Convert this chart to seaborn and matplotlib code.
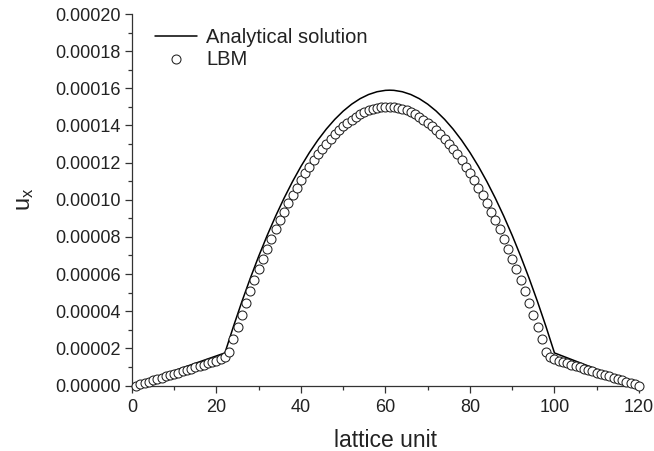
import matplotlib
matplotlib.use("Agg")
import matplotlib.pyplot as plt
import seaborn as sns
import pandas as pd
from matplotlib.ticker import MultipleLocator, FormatStrFormatter

# ---- data ----
ana_x = [0, 22, 24, 26, 28, 30, 32, 34, 36, 38, 40, 42, 44, 46, 48, 50, 52, 54, 56, 58, 60,
         61, 62, 64, 66, 68, 70, 72, 74, 76, 78, 80, 82, 84, 86, 88, 90, 92, 94, 96, 98, 100, 120]
ana_u = [0.0, 1.755e-05, 3.168e-05, 4.507e-05, 5.772e-05, 6.963e-05, 8.079e-05, 9.120e-05,
         1.0087e-04, 1.0980e-04, 1.1799e-04, 1.2543e-04, 1.3212e-04, 1.3807e-04, 1.4328e-04,
         1.4775e-04, 1.5147e-04, 1.5444e-04, 1.5667e-04, 1.5816e-04, 1.5891e-04,
         1.5900e-04, 1.5891e-04, 1.5816e-04, 1.5667e-04, 1.5444e-04, 1.5147e-04, 1.4775e-04,
         1.4328e-04, 1.3807e-04, 1.3212e-04, 1.2543e-04, 1.1799e-04, 1.0980e-04, 1.0087e-04,
         9.120e-05, 8.079e-05, 6.963e-05, 5.772e-05, 4.507e-05, 3.168e-05, 1.755e-05, 0.0]

lbm_x = list(range(1, 121))
lbm_u = [
    0.0, 7.0e-07, 1.4e-06, 2.1e-06, 2.8e-06, 3.5e-06, 4.2e-06, 4.9e-06, 5.6e-06, 6.3e-06,
    7.0e-06, 7.7e-06, 8.4e-06, 9.1e-06, 9.8e-06, 1.05e-05, 1.12e-05, 1.19e-05, 1.26e-05, 1.34e-05,
    1.43e-05, 1.56e-05, 1.78e-05, 2.48e-05, 3.15e-05, 3.81e-05, 4.45e-05, 5.08e-05, 5.68e-05, 6.26e-05,
    6.83e-05, 7.37e-05, 7.90e-05, 8.41e-05, 8.89e-05, 9.36e-05, 9.81e-05, 1.0242e-04, 1.0659e-04, 1.1050e-04,
    1.1426e-04, 1.1784e-04, 1.2121e-04, 1.2441e-04, 1.2742e-04, 1.3024e-04, 1.3287e-04, 1.3531e-04, 1.3757e-04, 1.3964e-04,
    1.4152e-04, 1.4321e-04, 1.4471e-04, 1.4603e-04, 1.4716e-04, 1.4810e-04, 1.4885e-04, 1.4941e-04, 1.4979e-04, 1.4998e-04,
    1.4998e-04, 1.4979e-04, 1.4941e-04, 1.4885e-04, 1.4810e-04, 1.4716e-04, 1.4603e-04, 1.4471e-04, 1.4321e-04, 1.4152e-04,
    1.3964e-04, 1.3757e-04, 1.3531e-04, 1.3287e-04, 1.3024e-04, 1.2742e-04, 1.2441e-04, 1.2121e-04, 1.1784e-04, 1.1426e-04,
    1.1050e-04, 1.0659e-04, 1.0242e-04, 9.81e-05, 9.36e-05, 8.89e-05, 8.41e-05, 7.90e-05, 7.37e-05, 6.83e-05,
    6.26e-05, 5.68e-05, 5.08e-05, 4.45e-05, 3.81e-05, 3.15e-05, 2.48e-05, 1.78e-05, 1.56e-05, 1.43e-05,
    1.34e-05, 1.26e-05, 1.19e-05, 1.12e-05, 1.05e-05, 9.8e-06, 9.1e-06, 8.4e-06, 7.7e-06, 7.0e-06,
    6.3e-06, 5.6e-06, 4.9e-06, 4.2e-06, 3.5e-06, 2.8e-06, 2.1e-06, 1.4e-06, 7.0e-07, 0.0,
]

x_ticks = [0, 20, 40, 60, 80, 100, 120]
x_label = "lattice unit"
y_label = r"u$_{\mathregular{x}}$"
legend_labels = ["Analytical solution", "LBM"]

# ---- figure ----
sns.set_theme(style="ticks")
plt.rcParams["font.family"] = ["Liberation Sans", "DejaVu Sans"]
plt.rcParams["mathtext.default"] = "regular"

fig = plt.figure(figsize=(6.54, 4.51), dpi=100)
ax = fig.add_axes([0.2018, 0.1452, 0.7752, 0.8237])

ana_df = pd.DataFrame({"x": ana_x, "u": ana_u})
lbm_df = pd.DataFrame({"x": lbm_x, "u": lbm_u})

sns.lineplot(data=ana_df, x="x", y="u", ax=ax, color="black", linewidth=1.1,
             label=legend_labels[0], sort=False, zorder=2)
sns.scatterplot(data=lbm_df, x="x", y="u", ax=ax, marker="o", s=42,
                facecolor="white", edgecolor="#222222", linewidth=0.75,
                label=legend_labels[1], zorder=3, clip_on=False)

ax.set_xlim(0, 120)
ax.set_ylim(0, 0.0002)
ax.set_xticks(x_ticks)
ax.xaxis.set_minor_locator(MultipleLocator(10))
ax.yaxis.set_major_locator(MultipleLocator(0.00002))
ax.yaxis.set_minor_locator(MultipleLocator(0.00001))
ax.yaxis.set_major_formatter(FormatStrFormatter("%.5f"))

for side in ["top", "right"]:
    ax.spines[side].set_visible(False)
for side in ["left", "bottom"]:
    ax.spines[side].set_linewidth(0.9)
    ax.spines[side].set_color("#333333")

ax.tick_params(which="major", direction="out", length=5, width=0.9, color="#333333",
               labelsize=13, labelcolor="#222222")
ax.tick_params(which="minor", direction="out", length=3, width=0.9, color="#333333")
ax.tick_params(axis="x", which="major", pad=5)
ax.tick_params(axis="y", which="major", pad=3)

ax.set_xlabel(x_label, fontsize=16.5, color="#222222", labelpad=9)
ax.set_ylabel(y_label, fontsize=17, color="#222222", labelpad=14)

leg = ax.legend(loc="upper left", bbox_to_anchor=(0.045, 0.962), frameon=False,
                fontsize=14.5, handlelength=2.1, handletextpad=0.45, labelspacing=0.12,
                borderaxespad=0, borderpad=0)
for t in leg.get_texts():
    t.set_color("#222222")

fig.savefig("out.png", dpi=100)
